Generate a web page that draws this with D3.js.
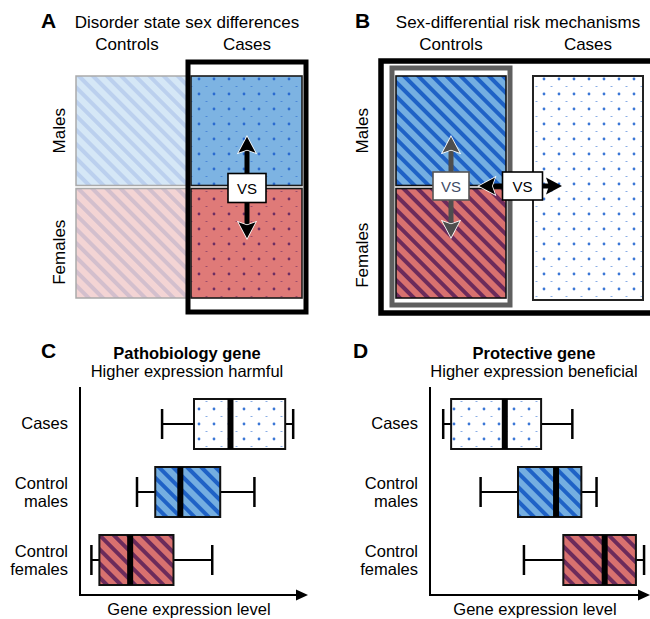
<!DOCTYPE html>
<html lang="en">
<head>
<meta charset="utf-8">
<script src="https://d3js.org/d3.v7.min.js"></script>
<style>
  body { margin: 0; background: #fff; }
  svg { display: block; font-family: "Liberation Sans", Arial, sans-serif; }
</style>
</head>
<body>
<svg id="fig"></svg>
<script>
// ---- chart content ----
const conditions = ["Controls", "Cases"];
const sexes = ["Males", "Females"];
const panelTitles = ["Disorder state sex differences", "Sex-differential risk mechanisms"];
const boxGroups = ["Cases", "Control males", "Control females"];
const boxGroupLines = [["Cases"], ["Control", "males"], ["Control", "females"]];
const boxTitles = [["Pathobiology gene", "Higher expression harmful"],
                   ["Protective gene", "Higher expression beneficial"]];
// [whisker low, q1, median, q3, whisker high] on a 0-100 expression scale
const pathoStats = [[36, 50, 66, 90, 93.5], [25, 33, 44, 61.5, 76.5], [5, 8.5, 22, 41, 58]];
const protectStats = [[6, 9.6, 34, 50.5, 64.7], [23, 40, 57.3, 68.8, 75.7], [42.7, 60.6, 79.4, 93.6, 97.3]];
const axisLabel = "Gene expression level";

const width = 650, height = 619;
const svg = d3.select("#fig").attr("width", width).attr("height", height);
const defs = svg.append("defs");

function stripePattern(id, bg, fg) {
  const p = defs.append("pattern").attr("id", id)
    .attr("patternUnits", "userSpaceOnUse")
    .attr("width", 10).attr("height", 10)
    .attr("patternTransform", "rotate(-45)");
  p.append("rect").attr("width", 10).attr("height", 10).attr("fill", bg);
  p.append("rect").attr("width", 4).attr("height", 10).attr("fill", fg);
}
function dotPattern(id, bg, fg) {
  const p = defs.append("pattern").attr("id", id)
    .attr("patternUnits", "userSpaceOnUse")
    .attr("width", 15).attr("height", 15);
  p.append("rect").attr("width", 15).attr("height", 15).attr("fill", bg);
  p.append("circle").attr("cx", 4).attr("cy", 4).attr("r", 1.4).attr("fill", fg);
  p.append("rect").attr("x", 10.5).attr("y", 11).attr("width", 2).attr("height", 1)
    .attr("fill", fg).attr("opacity", 0.6);
}
stripePattern("stripeBlue", "#74aee1", "#1f62c6");
stripePattern("stripeRed", "#d8716f", "#6c2b5b");
dotPattern("dotWhite", "#ffffff", "#3b77d6");
dotPattern("dotBlue", "#7db3e2", "#2a6bd0");
dotPattern("dotRed", "#df7a78", "#6e2d62");

const stripeFill = { Males: "url(#stripeBlue)", Females: "url(#stripeRed)" };
const dotFill = { Males: "url(#dotBlue)", Females: "url(#dotRed)" };

// arrow helpers
function head(g, tipX, tipY, dx, dy, color, outline) {
  // dx,dy: unit direction pointing back from the tip
  const L = 16, W = 8.5, N = 13;
  const bx = tipX + dx * L, by = tipY + dy * L;
  const nx = tipX + dx * N, ny = tipY + dy * N;
  const px = -dy, py = dx;
  g.append("path")
    .attr("d", `M${tipX},${tipY}L${bx + px * W},${by + py * W}L${nx},${ny}L${bx - px * W},${by - py * W}Z`)
    .attr("fill", color)
    .attr("stroke", outline ? "#fff" : "none")
    .attr("stroke-width", 1.6)
    .attr("paint-order", "stroke")
    .attr("stroke-linejoin", "miter");
}
function vArrow(g, x, yTop, yBot, color) {
  g.append("line").attr("x1", x).attr("x2", x).attr("y1", yTop + 10).attr("y2", yBot - 10)
    .attr("stroke", color).attr("stroke-width", 5);
  head(g, x, yTop, 0, 1, color, true);
  head(g, x, yBot, 0, -1, color, true);
}
function vsBox(g, cx, cy, w, h, stroke, textColor) {
  g.append("rect").attr("x", cx - w / 2).attr("y", cy - h / 2).attr("width", w).attr("height", h)
    .attr("fill", "#fff").attr("stroke", stroke).attr("stroke-width", 1.6);
  g.append("text").attr("x", cx).attr("y", cy + 5.5).attr("text-anchor", "middle")
    .attr("font-size", 15).attr("fill", textColor).text("VS");
}
function panelLetter(x, y, t) {
  svg.append("text").attr("x", x).attr("y", y).attr("font-size", 21)
    .attr("font-weight", "bold").text(t);
}

// ---- panel A ----
const yRow = d3.scaleBand().domain(sexes).range([76, 298]).paddingInner(0.027);
const xA = d3.scaleBand().domain(conditions).range([76, 303]).paddingInner(0.026);
const gA = svg.append("g");
panelLetter(41, 28, "A");
gA.append("text").attr("x", 187).attr("y", 28).attr("text-anchor", "middle")
  .attr("font-size", 17).text(panelTitles[0]);
gA.selectAll("text.col").data(conditions).join("text").attr("class", "col")
  .attr("x", d => xA(d) + xA.bandwidth() / 2 + (d === "Controls" ? -5 : 0))
  .attr("y", 50).attr("text-anchor", "middle").attr("font-size", 17).text(d => d);
gA.selectAll("text.row").data(sexes).join("text").attr("class", "row")
  .attr("transform", d => `translate(65,${yRow(d) + yRow.bandwidth() / 2 + (d === "Females" ? 9 : 0)}) rotate(-90)`)
  .attr("text-anchor", "middle").attr("font-size", 17).text(d => d);

// faded controls
gA.selectAll("rect.ctrl").data(sexes).join("rect").attr("class", "ctrl")
  .attr("x", xA("Controls")).attr("y", d => yRow(d))
  .attr("width", xA.bandwidth()).attr("height", yRow.bandwidth())
  .attr("fill", d => stripeFill[d]).attr("fill-opacity", 0.3)
  .attr("stroke", "#aaa").attr("stroke-width", 1.5);
// cases frame
gA.append("rect")
  .attr("x", xA("Cases") - 3).attr("y", yRow.range()[0] - 14)
  .attr("width", xA.bandwidth() + 6).attr("height", yRow.range()[1] - yRow.range()[0] + 28)
  .attr("fill", "#fff").attr("stroke", "#000").attr("stroke-width", 5);
gA.selectAll("rect.case").data(sexes).join("rect").attr("class", "case")
  .attr("x", xA("Cases")).attr("y", d => yRow(d))
  .attr("width", xA.bandwidth() - 1).attr("height", yRow.bandwidth())
  .attr("fill", d => dotFill[d]).attr("stroke", "#1a1a1a").attr("stroke-width", 1.6);
const axA = xA("Cases") + xA.bandwidth() / 2;
const midY = (yRow("Males") + yRow.bandwidth() + yRow("Females")) / 2;
vArrow(gA, axA, yRow("Males") + yRow.bandwidth() / 2 + 6, yRow("Females") + yRow.bandwidth() / 2 - 5, "#000");
vsBox(gA, axA, midY + 1, 38, 29, "#000", "#000");

// ---- panel B ----
const xB = d3.scaleBand().domain(conditions).range([396, 643]).paddingInner(0.197);
const gB = svg.append("g");
panelLetter(355, 28, "B");
gB.append("text").attr("x", 518).attr("y", 28).attr("text-anchor", "middle")
  .attr("font-size", 17).text(panelTitles[1]);
gB.selectAll("text.col").data(conditions).join("text").attr("class", "col")
  .attr("x", d => xB(d) + xB.bandwidth() / 2)
  .attr("y", 50).attr("text-anchor", "middle").attr("font-size", 17).text(d => d);
gB.selectAll("text.row").data(sexes).join("text").attr("class", "row")
  .attr("transform", d => `translate(368,${yRow(d) + yRow.bandwidth() / 2 + (d === "Females" ? 12 : 0)}) rotate(-90)`)
  .attr("text-anchor", "middle").attr("font-size", 17).text(d => d);

// outer frame (runs off the right edge)
gB.append("rect")
  .attr("x", xB.range()[0] - 15).attr("y", yRow.range()[0] - 15)
  .attr("width", 300).attr("height", yRow.range()[1] - yRow.range()[0] + 30)
  .attr("fill", "#fff").attr("stroke", "#000").attr("stroke-width", 5.5);
// controls grey frame
gB.append("rect")
  .attr("x", xB("Controls") - 4).attr("y", yRow.range()[0] - 8)
  .attr("width", xB.bandwidth() + 8).attr("height", yRow.range()[1] - yRow.range()[0] + 15)
  .attr("fill", "#fff").attr("stroke", "#5f5f5f").attr("stroke-width", 5);
gB.selectAll("rect.ctrl").data(sexes).join("rect").attr("class", "ctrl")
  .attr("x", xB("Controls")).attr("y", d => yRow(d))
  .attr("width", xB.bandwidth()).attr("height", yRow.bandwidth())
  .attr("fill", d => stripeFill[d]).attr("stroke", "#111").attr("stroke-width", 1.6);
gB.append("rect")
  .attr("x", xB("Cases")).attr("y", yRow.range()[0])
  .attr("width", xB.bandwidth()).attr("height", yRow.range()[1] - yRow.range()[0] + 2)
  .attr("fill", "url(#dotWhite)").attr("stroke", "#222").attr("stroke-width", 2);
const axB = xB("Controls") + xB.bandwidth() / 2;
vArrow(gB, axB, yRow("Males") + yRow.bandwidth() / 2 + 6, yRow("Females") + yRow.bandwidth() / 2 - 6, "#4e4e4e");
vsBox(gB, axB, midY - 1, 36, 28, "#555", "#3f4d66");
// horizontal controls vs cases arrow
const hx1 = xB("Controls") + xB.bandwidth() - 27, hx2 = xB("Cases") + 29;
gB.append("line").attr("x1", hx1 + 10).attr("x2", hx2 - 10).attr("y1", midY - 1).attr("y2", midY - 1)
  .attr("stroke", "#000").attr("stroke-width", 5);
head(gB, hx1, midY - 1, 1, 0, "#000", true);
head(gB, hx2, midY - 1, -1, 0, "#000", false);
vsBox(gB, (xB("Controls") + xB.bandwidth() + xB("Cases")) / 2 + 3, midY - 1, 40, 28, "#000", "#000");

// ---- panels C and D ----
const yBox = d3.scalePoint().domain(boxGroups).range([424, 560]);
const groupFill = { "Cases": "url(#dotWhite)", "Control males": "url(#stripeBlue)", "Control females": "url(#stripeRed)" };

function boxPanel(letter, letterX, titles, stats, x, titleX) {
  const g = svg.append("g");
  panelLetter(letterX, 358, letter);
  g.append("text").attr("x", titleX).attr("y", 359).attr("text-anchor", "middle")
    .attr("font-size", 16.5).attr("font-weight", "bold").text(titles[0]);
  g.append("text").attr("x", titleX).attr("y", 377).attr("text-anchor", "middle")
    .attr("font-size", 16.5).text(titles[1]);

  const x0 = x.range()[0], x1 = x.range()[1], yAxis = 595;
  g.append("line").attr("x1", x0).attr("x2", x0).attr("y1", 387).attr("y2", yAxis + 1)
    .attr("stroke", "#000").attr("stroke-width", 2);
  g.append("line").attr("x1", x0 - 1).attr("x2", x1 - 6).attr("y1", yAxis).attr("y2", yAxis)
    .attr("stroke", "#000").attr("stroke-width", 2);
  g.append("path").attr("d", `M${x1},${yAxis}L${x1 - 12},${yAxis - 5.5}L${x1 - 12},${yAxis + 5.5}Z`)
    .attr("fill", "#000");
  g.append("text").attr("x", (x0 + x1) / 2 - 5).attr("y", 615).attr("text-anchor", "middle")
    .attr("font-size", 16.5).text(axisLabel);

  // group labels
  boxGroups.forEach((grp, i) => {
    const lines = boxGroupLines[i];
    const cy = yBox(grp);
    lines.forEach((t, j) => {
      g.append("text").attr("x", x0 - 12)
        .attr("y", lines.length === 1 ? cy + 5 : cy - 3 + j * 18)
        .attr("text-anchor", "end").attr("font-size", 16.5).text(t);
    });
  });

  const rows = g.selectAll("g.box").data(boxGroups.map((grp, i) => ({ grp, s: stats[i] })))
    .join("g").attr("class", "box");
  rows.append("line")
    .attr("x1", d => x(d.s[0])).attr("x2", d => x(d.s[4]))
    .attr("y1", d => yBox(d.grp)).attr("y2", d => yBox(d.grp))
    .attr("stroke", "#000").attr("stroke-width", 2);
  [0, 4].forEach(k => {
    rows.append("line")
      .attr("x1", d => x(d.s[k])).attr("x2", d => x(d.s[k]))
      .attr("y1", d => yBox(d.grp) - 15).attr("y2", d => yBox(d.grp) + 15)
      .attr("stroke", "#000").attr("stroke-width", 2.5);
  });
  rows.append("rect")
    .attr("x", d => x(d.s[1])).attr("width", d => x(d.s[3]) - x(d.s[1]))
    .attr("y", d => yBox(d.grp) - 25).attr("height", 50)
    .attr("fill", d => groupFill[d.grp]).attr("stroke", "#111").attr("stroke-width", 2);
  rows.append("line")
    .attr("x1", d => x(d.s[2])).attr("x2", d => x(d.s[2]))
    .attr("y1", d => yBox(d.grp) - 25).attr("y2", d => yBox(d.grp) + 25)
    .attr("stroke", "#000").attr("stroke-width", 6);
}

boxPanel("C", 41, boxTitles[0], pathoStats, d3.scaleLinear().domain([0, 100]).range([80, 308]), 187);
boxPanel("D", 353, boxTitles[1], protectStats, d3.scaleLinear().domain([0, 100]).range([430, 650]), 534);
</script>
</body>
</html>
